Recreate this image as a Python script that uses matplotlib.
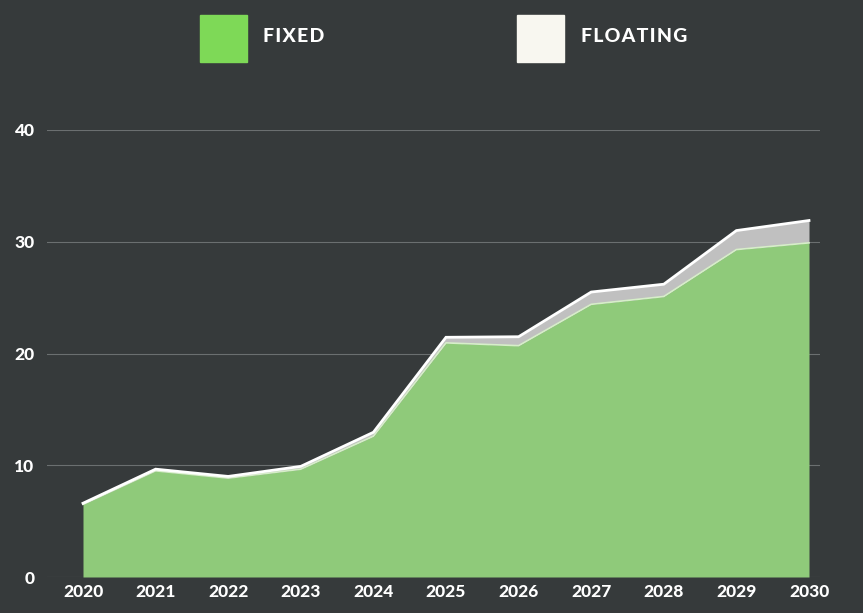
import matplotlib
matplotlib.use("Agg")
import matplotlib.pyplot as plt
from matplotlib.patches import Rectangle

years = [2020, 2021, 2022, 2023, 2024, 2025, 2026, 2027, 2028, 2029, 2030]
fixed = [6.5, 9.5, 8.85, 9.65, 12.6, 20.95, 20.7, 24.4, 25.1, 29.3, 29.9]
floating = [0.1, 0.15, 0.15, 0.25, 0.35, 0.5, 0.8, 1.1, 1.1, 1.7, 2.0]
y_ticks = [0, 10, 20, 30, 40]

bg = "#363a3b"
plt.rcParams["font.family"] = ["Lato", "DejaVu Sans"]

fig = plt.figure(figsize=(8.63, 6.13), dpi=100, facecolor=bg)
ax = fig.add_axes([47 / 863, 36 / 613, 773 / 863, 447 / 613])
ax.set_facecolor(bg)

total = [f + s for f, s in zip(fixed, floating)]
ax.fill_between(years, 0, fixed, color="#8fca7a", lw=0, zorder=2)
ax.fill_between(years, fixed, total, color="#c0c0c0", lw=0, zorder=2)
ax.plot(years, fixed, color="#d6efc8", lw=1.2, zorder=3)
ax.plot(years, total, color="white", lw=2, zorder=4, solid_joinstyle="miter")

ax.set_xlim(2020 - 36 / 72.6, 2030 + 11 / 72.6)
ax.set_ylim(0, 40)
ax.set_yticks(y_ticks)
ax.set_xticks(years)
ax.grid(axis="y", color="#6b6f70", lw=0.8, zorder=1)
for s in ax.spines.values():
    s.set_visible(False)
ax.tick_params(length=0, colors="white", labelsize=12.5)
ax.tick_params(axis="y", pad=9)
ax.tick_params(axis="x", pad=5)
for lbl in ax.get_xticklabels() + ax.get_yticklabels():
    lbl.set_fontweight(900)

# legend
fig.patches.append(Rectangle((200 / 863, 1 - 62 / 613), 47 / 863, 47 / 613,
                             transform=fig.transFigure, color="#7ed957"))
fig.text(263 / 863, 1 - 36 / 613, "F I X E D".replace(" ", "\u200a"), color="white",
         fontsize=14, fontweight=900, va="center")
fig.patches.append(Rectangle((517 / 863, 1 - 62 / 613), 47 / 863, 47 / 613,
                             transform=fig.transFigure, color="#f8f7f0"))
fig.text(581 / 863, 1 - 36 / 613, "F L O A T I N G".replace(" ", "\u200a"), color="white",
         fontsize=14, fontweight=900, va="center")

fig.savefig("out.png", dpi=100, facecolor=bg)
